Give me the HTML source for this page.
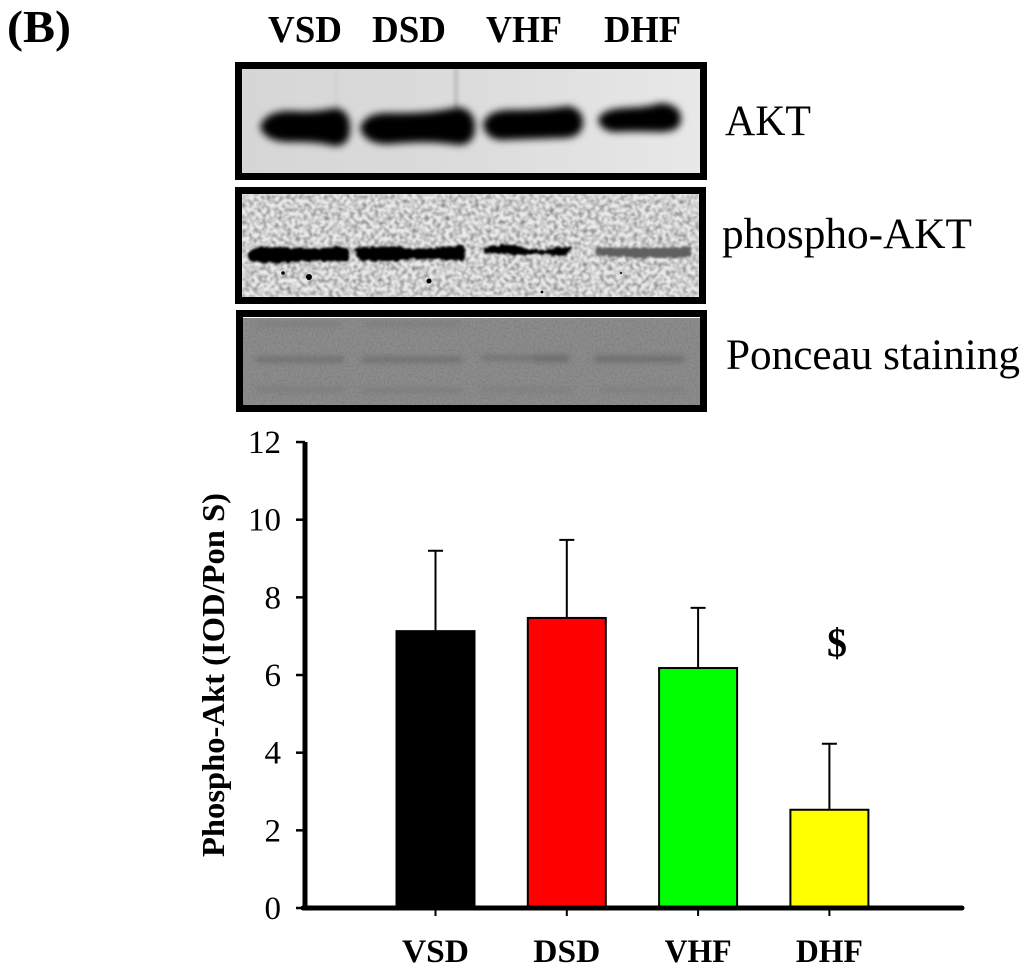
<!DOCTYPE html>
<html><head><meta charset="utf-8"><style>
html,body{margin:0;padding:0;background:#fff;width:1024px;height:968px;overflow:hidden}
svg{display:block}
text{font-family:"Liberation Serif",serif;fill:#000}
</style></head><body>
<svg id="fig" width="1024" height="968" viewBox="0 0 1024 968" xmlns="http://www.w3.org/2000/svg">
<defs>
<filter id="b3" x="-20%" y="-60%" width="140%" height="220%"><feGaussianBlur stdDeviation="3.6"/></filter>
<filter id="b1" x="-100%" y="-60%" width="300%" height="220%"><feGaussianBlur stdDeviation="1.8"/></filter>
<filter id="b4" x="-20%" y="-100%" width="140%" height="300%"><feGaussianBlur stdDeviation="3"/></filter>
<filter id="rough" x="-5%" y="-60%" width="110%" height="220%"><feTurbulence type="fractalNoise" baseFrequency="0.18" numOctaves="2" seed="11" result="t"/><feDisplacementMap in="SourceGraphic" in2="t" scale="5" xChannelSelector="R" yChannelSelector="G"/><feGaussianBlur stdDeviation="1"/></filter>
<filter id="noiseA" x="0" y="0" width="100%" height="100%"><feTurbulence type="fractalNoise" baseFrequency="0.24" numOctaves="2" seed="7"/><feColorMatrix type="matrix" values="0 0 0 0 0 0 0 0 0 0 0 0 0 0 0 1.9 0 0 0 -0.7"/><feGaussianBlur stdDeviation="0.7"/></filter>
<filter id="noiseB" x="0" y="0" width="100%" height="100%"><feTurbulence type="fractalNoise" baseFrequency="0.5" numOctaves="2" seed="3"/><feColorMatrix type="matrix" values="0 0 0 0 0 0 0 0 0 0 0 0 0 0 0 0.7 0 0 0 -0.28"/></filter>
<linearGradient id="aktBg" x1="0" x2="1" y1="0" y2="0"><stop offset="0" stop-color="#d6d6d6"/><stop offset="0.5" stop-color="#dcdcdc"/><stop offset="1" stop-color="#e8e8e8"/></linearGradient>
<clipPath id="c1"><rect x="242" y="69" width="458" height="104"/></clipPath>
<clipPath id="c2"><rect x="242" y="194" width="457" height="103"/></clipPath>
<clipPath id="c3"><rect x="243" y="318" width="457" height="87"/></clipPath>
</defs>
<rect width="1024" height="968" fill="#fff"/>
<text x="7" y="42" font-size="46" font-weight="bold" textLength="64" lengthAdjust="spacingAndGlyphs">(B)</text>
<g font-size="38" font-weight="bold">
<text x="268" y="42" textLength="74" lengthAdjust="spacingAndGlyphs">VSD</text>
<text x="372" y="42" textLength="74" lengthAdjust="spacingAndGlyphs">DSD</text>
<text x="486" y="42" textLength="76" lengthAdjust="spacingAndGlyphs">VHF</text>
<text x="604" y="42" textLength="77" lengthAdjust="spacingAndGlyphs">DHF</text>
</g>

<g>
<rect x="242" y="69" width="458" height="104" fill="url(#aktBg)"/>
<g clip-path="url(#c1)">
<rect x="335" y="69" width="3" height="40" fill="#cfcfcf" filter="url(#b1)"/>
<rect x="454" y="69" width="4" height="40" fill="#bcbcbc" filter="url(#b1)"/>
<g fill="#000" filter="url(#b3)">
<path d="M260 127 Q265 111 290 111 Q315 113 335 108 Q350 110 350 128 Q350 146 335 146 Q315 141 290 142 Q265 142 260 127Z"/>
<path d="M360 128 Q365 112 390 113 Q430 114 458 107 Q475 110 475 127 Q475 145 458 145 Q430 140 390 144 Q365 145 360 128Z"/>
<path d="M483 124 Q487 110 510 110 Q545 110 568 106 Q583 109 583 122 Q583 137 565 138 Q530 139 500 140 Q485 138 483 124Z"/>
<path d="M598 120 Q601 109 625 108 Q650 107 660 103 Q681 104 681 119 Q681 132 660 132 Q635 131 615 132 Q601 131 598 120Z"/>
</g></g>
<rect x="238.500" y="65.500" width="465" height="111" fill="none" stroke="#000" stroke-width="7"/>
</g>

<g>
<rect x="242" y="194" width="457" height="103" fill="#ececec"/>
<g clip-path="url(#c2)">
<rect x="242" y="194" width="457" height="103" fill="#000" filter="url(#noiseA)" opacity="0.5"/>
<g fill="#000" filter="url(#rough)">
<path d="M248 253 Q252 247 270 247 Q300 249 347 247 Q350 254 348 262 Q310 260 290 262 Q260 264 250 261Z"/>
<path d="M354 249 Q375 245 395 247 Q430 251 464 245 Q466 255 462 261 Q430 258 410 259 Q385 263 360 260Z"/>
<path d="M484 249 Q500 243 515 246 Q530 250 545 250 Q560 245 572 247 Q570 257 560 256 Q540 252 520 255 Q500 255 484 252Z"/>
</g>
<path d="M596 247 Q640 249 691 247 L691 257 Q640 259 596 255Z" fill="#606060" filter="url(#rough)"/>
<g fill="#000">
<circle cx="283" cy="273" r="1.800"/><circle cx="309" cy="277" r="3"/><circle cx="429" cy="281" r="2.500"/><circle cx="542" cy="292" r="1.300"/><circle cx="621" cy="273" r="1"/>
</g></g>
<rect x="238.500" y="190.500" width="464" height="110" fill="none" stroke="#000" stroke-width="7"/>
</g>

<g>
<rect x="243" y="318" width="457" height="87" fill="#8c8c8c"/>
<g clip-path="url(#c3)">
<rect x="243" y="318" width="457" height="87" fill="#000" filter="url(#noiseB)" opacity="0.35"/>
<g fill="#6c6c6c" filter="url(#b4)">
<rect x="256" y="357" width="88" height="5"/><rect x="362" y="357" width="100" height="5"/><rect x="482" y="356" width="55" height="4"/><rect x="533" y="355" width="36" height="7"/><rect x="594" y="356" width="90" height="6"/>
</g>
<g fill="#7c7c7c" filter="url(#b4)">
<rect x="256" y="387" width="88" height="5"/><rect x="362" y="388" width="100" height="5"/><rect x="482" y="388" width="90" height="4"/><rect x="600" y="388" width="85" height="4"/>
<rect x="256" y="322" width="85" height="4"/><rect x="365" y="322" width="95" height="4"/>
</g></g>
<rect x="239.500" y="313.500" width="464" height="95" fill="none" stroke="#000" stroke-width="7"/>
</g>

<g font-size="43">
<text x="725" y="135" textLength="86" lengthAdjust="spacingAndGlyphs">AKT</text>
<text x="722" y="248" textLength="250" lengthAdjust="spacingAndGlyphs">phospho-AKT</text>
<text x="726" y="369" textLength="294" lengthAdjust="spacingAndGlyphs">Ponceau staining</text>
</g>

<g id="chart"></g>
</svg>
<script>
var categories = ['VSD', 'DSD', 'VHF', 'DHF'];
var meanValues = [7.13, 7.47, 6.18, 2.53];
var errorTops = [9.2, 9.48, 7.73, 4.23];
var barColors = ['#000000', '#ff0000', '#00ff00', '#ffff00'];
var yTicks = [0, 2, 4, 6, 8, 10, 12];

var NS = 'http://www.w3.org/2000/svg';
var chart = document.getElementById('chart');
function yScale(v) { return 908 - v * 38.83; }
function xScale(i) { return 435.5 + i * 131.3; }
function mk(tag, attrs, parent) {
  var el = document.createElementNS(NS, tag);
  for (var k in attrs) el.setAttribute(k, attrs[k]);
  (parent || chart).appendChild(el);
  return el;
}
var barWidth = 78;

categories.forEach(function (c, i) {
  var x = xScale(i);
  var line = mk('line', { x1: x, x2: x, y1: yScale(meanValues[i]), y2: yScale(errorTops[i]), stroke: '#000', 'stroke-width': 2 });
  
  
  var cap = mk('line', { x1: x - 7.5, x2: x + 7.5, y1: yScale(errorTops[i]), y2: yScale(errorTops[i]), stroke: '#000', 'stroke-width': 2 });
  
  
  var bar = mk('rect', { x: x - barWidth / 2, y: yScale(meanValues[i]), width: barWidth, height: yScale(0) - yScale(meanValues[i]), fill: barColors[i], stroke: '#000', 'stroke-width': 2 });
  
  
  var tick = mk('line', { x1: x, x2: x, y1: 908, y2: 916, stroke: '#000', 'stroke-width': 2 });
  
  
  var label = mk('text', { x: x, y: 962, 'text-anchor': 'middle', 'font-size': 33, 'font-weight': 'bold', textLength: 67, lengthAdjust: 'spacingAndGlyphs' });
  
  
  label.textContent = c;
});

yTicks.forEach(function (t) {
  var y = yScale(t);
  var tick = mk('line', { x1: 296, x2: 305, y1: y, y2: y, stroke: '#000', 'stroke-width': 2.5 });
  
  
  var label = mk('text', { x: 281, y: y + 11, 'text-anchor': 'end', 'font-size': 33 });
  
  
  label.textContent = t;
});

var yAxis = mk('line', { x1: 305, x2: 305, y1: yScale(12), y2: 910, stroke: '#000', 'stroke-width': 5 });


var xAxis = mk('line', { x1: 303, x2: 962, y1: 908, y2: 908, stroke: '#000', 'stroke-width': 5, 'stroke-linecap': 'round' });



var title = mk('text', { x: 0, y: 0, transform: 'translate(224 857) rotate(-90)', 'font-size': 32, 'font-weight': 'bold', textLength: 364, lengthAdjust: 'spacingAndGlyphs' });


title.textContent = 'Phospho-Akt (IOD/Pon S)';

var sig = mk('text', { x: 837, y: 656, 'text-anchor': 'middle', 'font-size': 40, 'font-weight': 'bold' });


sig.textContent = '$';
</script>
</body></html>
